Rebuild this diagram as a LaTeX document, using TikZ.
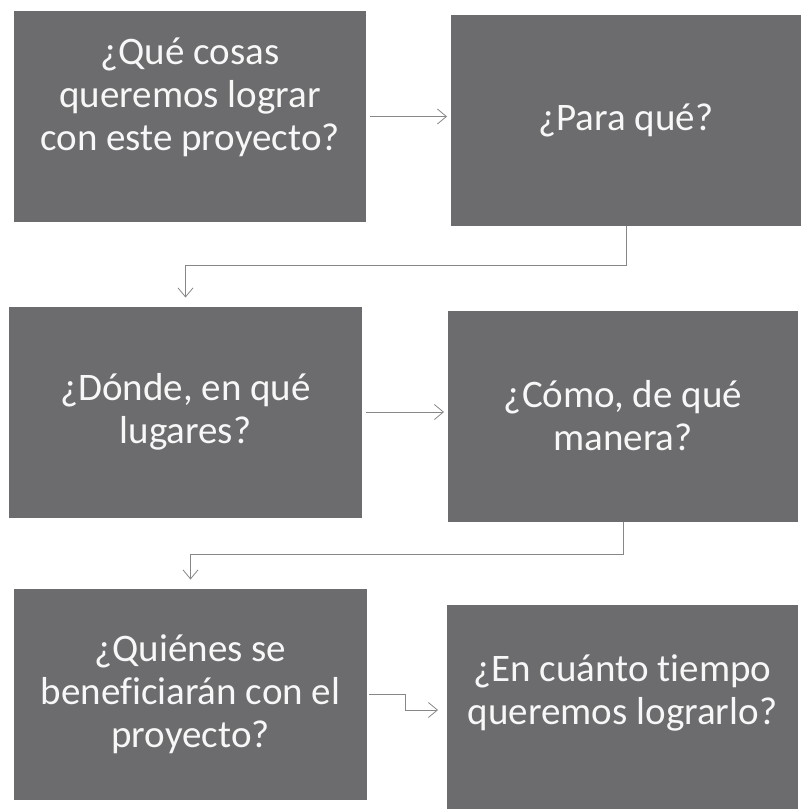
\documentclass[tikz,border=0pt]{standalone}
\usepackage{fontspec}
\setmainfont{Carlito}[Ligatures=NoCommon]
\usetikzlibrary{arrows.meta}
\definecolor{boxgray}{RGB}{108,108,110}
\definecolor{linegray}{RGB}{135,135,135}

\begin{document}
\begin{tikzpicture}[x=1pt,y=-1pt,
    question/.style={fill=boxgray, text=white!94!gray, align=center,
      inner sep=0pt, outer sep=0pt, minimum width=352pt, minimum height=211pt,
      font=\fontsize{39}{43}\selectfont},
    flow/.style={draw=linegray, line width=0.8pt,
      -{Straight Barb[length=9pt,width=15pt]}}]
  \useasboundingbox (0,0) rectangle (808,809);

  % preguntas
  \node[question, text depth=45pt] (que) at (190,116.5)
    {¿Qué cosas\\queremos lograr\\con este proyecto?};
  \node[question, minimum width=350pt] (para) at (626,120) {¿Para qué?};
  \node[question, minimum width=353pt] (donde) at (185.5,412)
    {¿Dónde, en qué\\lugares?};
  \node[question, minimum width=350pt] (como) at (623,416)
    {¿Cómo, de qué\\manera?};
  \node[question, minimum width=353pt] (quienes) at (190.5,694)
    {¿Quiénes se\\beneficiarán con el\\proyecto?};
  \node[question, minimum width=351pt, text depth=40pt] (tiempo) at (622.5,710)
    {¿En cuánto tiempo\\queremos lograrlo?};

  % flechas
  \draw[flow, shorten <=4pt, shorten >=4pt] (que.east) -- (que.east -| para.west);
  \draw[flow, shorten >=9pt] (para.south) -- ++(0,40) -| (donde.north);
  \draw[flow, shorten <=4pt, shorten >=4pt] (donde.east) -- (donde.east -| como.west);
  \draw[flow, shorten >=9pt] (como.south) -- ++(0,33) -| (quienes.north);
  \draw[flow, shorten <=2pt, shorten >=9pt] (quienes.east) -- ++(38,0) |- (tiempo.west);
\end{tikzpicture}
\end{document}
